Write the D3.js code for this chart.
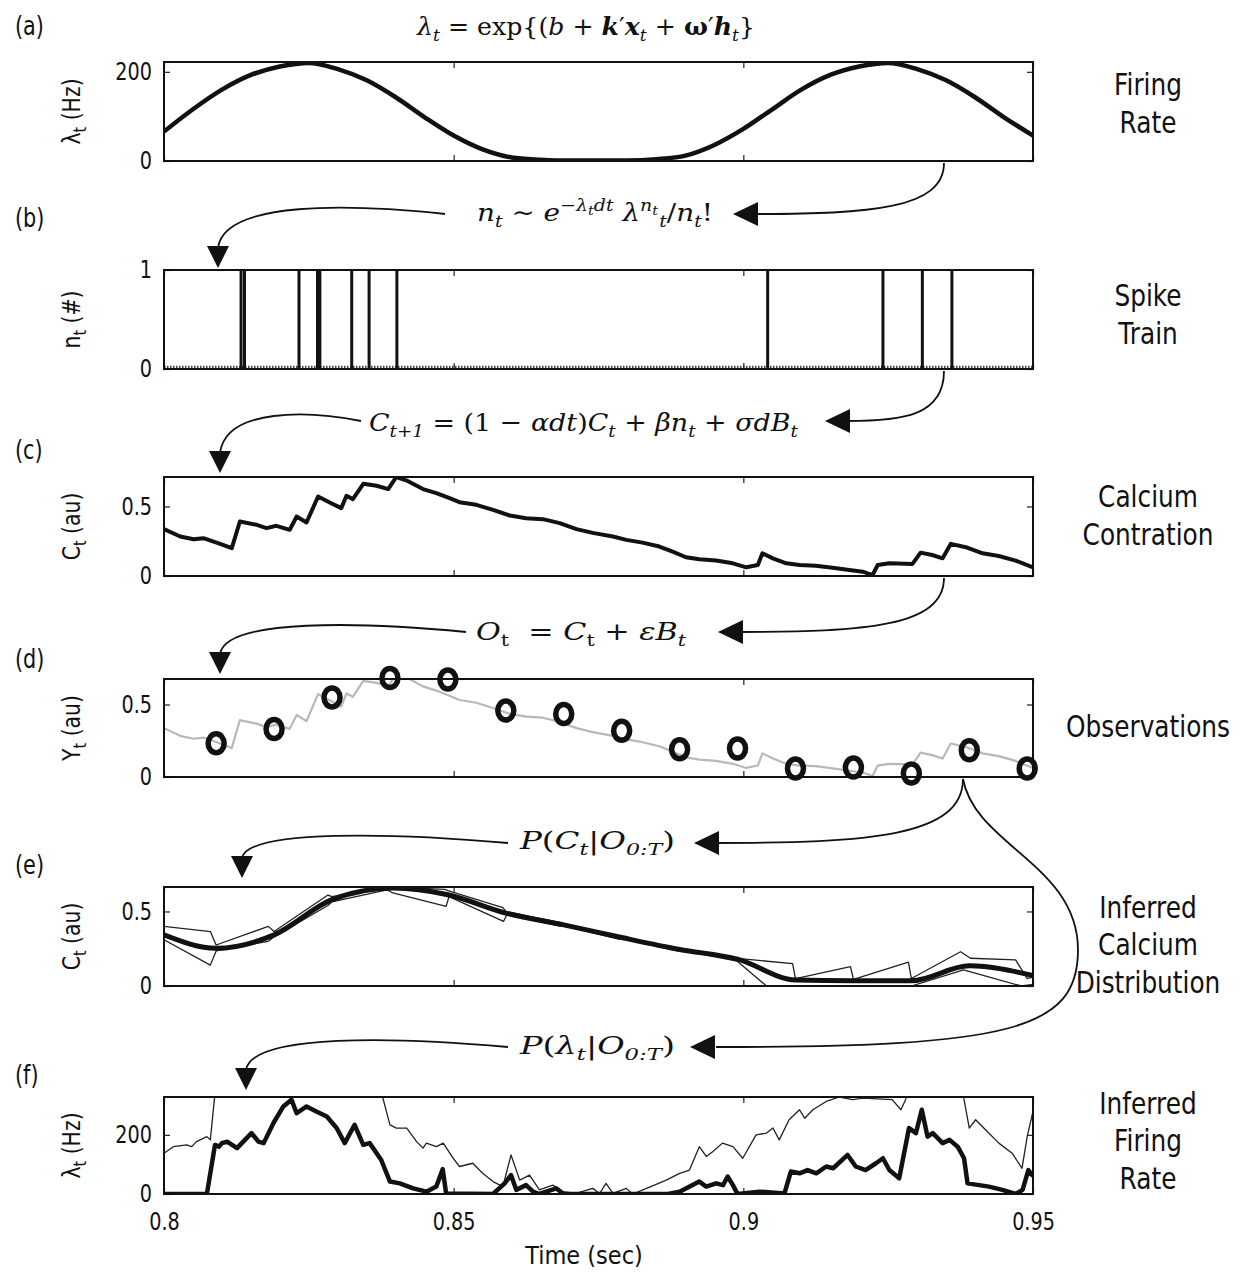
<!DOCTYPE html>
<html>
<head>
<meta charset="utf-8">
<script src="https://cdn.jsdelivr.net/npm/d3@7"></script>
<style>
  body { margin: 0; background: #fff; }
  svg { display: block; }
  .lab { font-family: "DejaVu Sans", sans-serif; fill: #111; }
  .eq { font-family: "DejaVu Serif", "Liberation Serif", serif; font-size: 25px; fill: #111; white-space: pre; }
</style>
</head>
<body>
<svg id="fig" width="1245" height="1275"></svg>
<script>
// shared time axis
const timeDomain = [0.8, 0.95];
const timeTicks = [0.8, 0.85, 0.9, 0.95];
const timeTickLabels = ["0.8", "0.85", "0.9", "0.95"];

// (a) true firing rate (Hz)
const rateTime = [0.800, 0.805, 0.810, 0.815, 0.820, 0.825, 0.830, 0.835, 0.840, 0.845, 0.850, 0.855,
  0.860, 0.865, 0.870, 0.875, 0.880, 0.885, 0.890, 0.895, 0.900, 0.905, 0.910, 0.915, 0.920, 0.925,
  0.930, 0.935, 0.940, 0.945, 0.950];
const rateHz = [66, 116, 160, 193, 212, 220, 206, 181, 143, 98, 57, 26,
  8, 3, 1, 1, 1, 4, 12, 36, 72, 116, 160, 193, 212, 220,
  206, 181, 143, 98, 57];

// (b) spike times (s)
const spikeTimes = [0.8133, 0.8139, 0.8233, 0.8265, 0.8269, 0.8324, 0.8354, 0.8402, 0.9042, 0.9241, 0.9309, 0.9360];

// (c) calcium concentration
const calciumTime = [0.8000, 0.8028, 0.8051, 0.8068, 0.8097, 0.8117, 0.8131, 0.8160, 0.8177, 0.8194,
  0.8217, 0.8229, 0.8246, 0.8266, 0.8286, 0.8306, 0.8315, 0.8326, 0.8344, 0.8367,
  0.8387, 0.8401, 0.8418, 0.8447, 0.8470, 0.8493, 0.8510, 0.8539, 0.8568, 0.8597,
  0.8625, 0.8654, 0.8683, 0.8712, 0.8740, 0.8775, 0.8798, 0.8826, 0.8855, 0.8878,
  0.8901, 0.8924, 0.8953, 0.8982, 0.9005, 0.9025, 0.9033, 0.9051, 0.9074, 0.9097,
  0.9125, 0.9154, 0.9183, 0.9206, 0.9223, 0.9232, 0.9252, 0.9292, 0.9306, 0.9326,
  0.9344, 0.9358, 0.9384, 0.9413, 0.9441, 0.9470, 0.9500];
const calciumValue = [0.337, 0.284, 0.264, 0.272, 0.231, 0.200, 0.392, 0.368, 0.344, 0.361,
  0.332, 0.428, 0.385, 0.572, 0.529, 0.488, 0.577, 0.553, 0.663, 0.649,
  0.625, 0.712, 0.688, 0.625, 0.596, 0.560, 0.531, 0.512, 0.476, 0.435,
  0.416, 0.409, 0.380, 0.337, 0.310, 0.284, 0.260, 0.240, 0.212, 0.175,
  0.135, 0.120, 0.111, 0.091, 0.0625, 0.079, 0.163, 0.127, 0.091, 0.079,
  0.0745, 0.060, 0.043, 0.031, 0.007, 0.079, 0.091, 0.087, 0.168, 0.151,
  0.127, 0.231, 0.207, 0.163, 0.144, 0.111, 0.0625];

// (d) noisy observations
const obsTime = [0.809, 0.819, 0.829, 0.839, 0.849, 0.859, 0.869, 0.879, 0.889, 0.899, 0.909, 0.919, 0.929, 0.939, 0.949];
const obsValue = [0.232, 0.331, 0.549, 0.683, 0.672, 0.458, 0.435, 0.319, 0.192, 0.197, 0.058, 0.065, 0.024, 0.185, 0.058];

// (e) inferred calcium: mean and bounds
const caMeanTime = [0.800, 0.809, 0.819, 0.829, 0.8395, 0.849, 0.859, 0.869, 0.879, 0.889, 0.899, 0.909, 0.919, 0.929, 0.939, 0.950];
const caMeanValue = [0.343, 0.253, 0.343, 0.579, 0.657, 0.612, 0.489, 0.41, 0.325, 0.245, 0.18, 0.04, 0.035, 0.035, 0.135, 0.07];
const caUpperTime = [0.800, 0.8080, 0.8090, 0.8180, 0.8190, 0.8283, 0.8290, 0.8385, 0.8392, 0.8485, 0.8490,
  0.8585, 0.8590, 0.8685, 0.8690, 0.8785, 0.8790, 0.8885, 0.8890, 0.8985, 0.8990, 0.9085, 0.9090,
  0.9185, 0.9190, 0.9285, 0.9290, 0.9375, 0.9392, 0.9470, 0.9490, 0.9500];
const caUpperValue = [0.40, 0.365, 0.275, 0.40, 0.365, 0.61, 0.60, 0.664, 0.664, 0.648, 0.640,
  0.525, 0.50, 0.425, 0.415, 0.335, 0.328, 0.255, 0.248, 0.19, 0.185, 0.15, 0.05,
  0.13, 0.045, 0.16, 0.05, 0.23, 0.186, 0.175, 0.05, 0.06];
const caLowerTime = [0.800, 0.8080, 0.8090, 0.8180, 0.8190, 0.8283, 0.8290, 0.8385, 0.8395, 0.8487, 0.8492,
  0.8586, 0.8592, 0.8685, 0.8690, 0.8785, 0.8790, 0.8885, 0.8890, 0.8985, 0.8990, 0.9040, 0.9290,
  0.9380, 0.9480, 0.9500];
const caLowerValue = [0.31, 0.14, 0.235, 0.30, 0.33, 0.54, 0.565, 0.645, 0.624, 0.534, 0.60,
  0.433, 0.48, 0.40, 0.405, 0.315, 0.32, 0.235, 0.24, 0.17, 0.165, 0.0, 0.0,
  0.108, 0.0, 0.01];

// (f) inferred firing rate: mean (thick) and upper bound (thin)
const frMeanTime = [0.8000, 0.8074, 0.8088, 0.8095, 0.8100, 0.8109, 0.8126, 0.8151, 0.8163, 0.8172,
  0.8189, 0.8206, 0.8220, 0.8229, 0.8246, 0.8263, 0.8281, 0.8298, 0.8312, 0.8329,
  0.8344, 0.8355, 0.8375, 0.8390, 0.8407, 0.8430, 0.8453, 0.8470, 0.8481, 0.8487,
  0.8568, 0.8588, 0.8599, 0.8608, 0.8625, 0.8637, 0.8648, 0.8677, 0.8690, 0.8870,
  0.8890, 0.8924, 0.8936, 0.8953, 0.8965, 0.8973, 0.8982, 0.8990, 0.9028, 0.9071,
  0.9082, 0.9097, 0.9111, 0.9126, 0.9143, 0.9155, 0.9180, 0.9194, 0.9211, 0.9229,
  0.9241, 0.9252, 0.9269, 0.9286, 0.9298, 0.9308, 0.9318, 0.9327, 0.9344, 0.9356,
  0.9370, 0.9381, 0.9387, 0.9407, 0.9424, 0.9447, 0.9470, 0.9482, 0.9492, 0.9500];
const frMeanHz = [0, 0, 166, 160, 172, 177, 155, 206, 177, 172,
  240, 296, 319, 273, 296, 279, 262, 223, 172, 234,
  166, 172, 115, 42, 36, 19, 8, 25, 84, 2,
  0, 36, 64, 14, 30, 8, 0, 19, 0, 0,
  8, 42, 25, 36, 30, 59, 30, 0, 8, 2,
  76, 70, 81, 70, 93, 87, 132, 93, 81, 104,
  121, 81, 53, 223, 206, 285, 194, 206, 172, 183,
  160, 121, 36, 30, 25, 14, 0, 14, 81, 60];
const frUpperTime = [0.8000, 0.8016, 0.8039, 0.8048, 0.8056, 0.8074, 0.8080, 0.8092, 0.8365, 0.8390,
  0.8401, 0.8419, 0.8436, 0.8447, 0.8453, 0.8470, 0.8482, 0.8499, 0.8510, 0.8533,
  0.8550, 0.8568, 0.8585, 0.8599, 0.8614, 0.8631, 0.8648, 0.8671, 0.8688, 0.8711,
  0.8740, 0.8752, 0.8763, 0.8775, 0.8798, 0.8809, 0.8833, 0.8867, 0.8890, 0.8907,
  0.8924, 0.8936, 0.8947, 0.8964, 0.8982, 0.8999, 0.9022, 0.9040, 0.9051, 0.9062,
  0.9079, 0.9097, 0.9106, 0.9120, 0.9143, 0.9166, 0.9189, 0.9206, 0.9257, 0.9272,
  0.9280, 0.9292, 0.9375, 0.9381, 0.9390, 0.9401, 0.9418, 0.9441, 0.9464, 0.9481,
  0.9490, 0.9500];
const frUpperHz = [138, 160, 166, 160, 177, 194, 183, 420, 420, 234,
  223, 223, 177, 155, 172, 160, 172, 121, 93, 104,
  70, 42, 25, 132, 47, 64, 14, 30, 8, 2,
  19, 2, 36, 2, 19, 0, 19, 47, 70, 81,
  160, 127, 143, 172, 160, 121, 200, 206, 223, 183,
  251, 285, 256, 285, 313, 328, 319, 324, 319, 285,
  319, 400, 400, 319, 223, 251, 217, 172, 138, 87,
  194, 280];

// per-panel text
const panelLetters = ["(a)", "(b)", "(c)", "(d)", "(e)", "(f)"];
const sideLabels = [["Firing", "Rate"], ["Spike", "Train"], ["Calcium", "Contration"],
  ["Observations"], ["Inferred", "Calcium", "Distribution"], ["Inferred", "Firing", "Rate"]];
const yLabels = [["λ", "t", " (Hz)"], ["n", "t", " (#)"], ["C", "t", " (au)"], ["Y", "t", " (au)"], ["C", "t", " (au)"], ["λ", "t", " (Hz)"]];
const yMax = [222, 1, 0.712, 0.676, 0.664, 328];
const yTickValues = [[0, 200], [0, 1], [0, 0.5], [0, 0.5], [0, 0.5], [0, 200]];
const yTickLabels = [["0", "200"], ["0", "1"], ["0", "0.5"], ["0", "0.5"], ["0", "0.5"], ["0", "200"]];

// layout
const plotLeft = 164, plotRight = 1033;
const boxes = [
  { top: 62, bottom: 161 }, { top: 270, bottom: 369 }, { top: 477, bottom: 576 },
  { top: 679, bottom: 777 }, { top: 887, bottom: 986 }, { top: 1097, bottom: 1194 }
];
const letterY = [35, 227, 459, 668, 874, 1084];
const sideMidY = [104, 315, 516, 727, 945, 1141];
const narrow = 0.8;   // horizontal squeeze to mimic the condensed sans of the original

const svg = d3.select("#fig");
const x = d3.scaleLinear().domain(timeDomain).range([plotLeft, plotRight]);

const panels = boxes.map((b, i) => {
  const y = d3.scaleLinear().domain([0, yMax[i]]).range([b.bottom, b.top]);
  svg.append("clipPath").attr("id", "clip" + i)
    .append("rect").attr("x", plotLeft).attr("y", b.top)
    .attr("width", plotRight - plotLeft).attr("height", b.bottom - b.top);
  const g = svg.append("g");
  const plot = g.append("g").attr("clip-path", `url(#clip${i})`);
  return { y, g, plot, box: b };
});

const zip = (ts, vs) => ts.map((t, k) => [t, vs[k]]);
function drawLine(p, data, width, color, curve) {
  p.plot.append("path")
    .datum(data)
    .attr("fill", "none")
    .attr("stroke", color)
    .attr("stroke-width", width)
    .attr("stroke-linejoin", "round")
    .attr("d", d3.line().x(d => x(d[0])).y(d => p.y(d[1])).curve(curve || d3.curveLinear));
}

// condensed text helper
function label(px, py, str, size, anchor) {
  return svg.append("text").attr("class", "lab").attr("font-size", size)
    .attr("text-anchor", anchor || "start")
    .attr("transform", `translate(${px},${py}) scale(${narrow},1)`)
    .text(str);
}

// (a)
drawLine(panels[0], zip(rateTime, rateHz), 4.5, "#111", d3.curveMonotoneX);

// (b)
panels[1].plot.append("line")
  .attr("x1", plotLeft).attr("x2", plotRight)
  .attr("y1", panels[1].y(0) - 2).attr("y2", panels[1].y(0) - 2)
  .attr("stroke", "#444").attr("stroke-width", 2.5).attr("stroke-dasharray", "1.5,1.5");
panels[1].plot.selectAll("line.spike")
  .data(spikeTimes)
  .join("line")
  .attr("class", "spike")
  .attr("x1", d => x(d)).attr("x2", d => x(d))
  .attr("y1", panels[1].y(0)).attr("y2", panels[1].y(1))
  .attr("stroke", "#111").attr("stroke-width", 3);

// (c)
drawLine(panels[2], zip(calciumTime, calciumValue), 4, "#111");

// (d)
drawLine(panels[3], zip(calciumTime, calciumValue), 2.2, "#b8b8b8");

// (e)
drawLine(panels[4], zip(caUpperTime, caUpperValue), 1.3, "#222");
drawLine(panels[4], zip(caLowerTime, caLowerValue), 1.3, "#222");
drawLine(panels[4], zip(caMeanTime, caMeanValue), 5, "#111", d3.curveMonotoneX);

// (f)
drawLine(panels[5], zip(frUpperTime, frUpperHz), 1.3, "#222");
drawLine(panels[5], zip(frMeanTime, frMeanHz), 4.5, "#111");

// frames, ticks, labels
panels.forEach((p, i) => {
  const { y, g, box } = p;
  const last = i === panels.length - 1;
  g.append("g").attr("transform", `translate(0,${box.bottom})`)
    .call(d3.axisBottom(x).tickValues(timeTicks).tickSize(-6).tickPadding(19)
      .tickFormat((d, k) => last ? timeTickLabels[k] : ""));
  g.append("g").attr("transform", `translate(0,${box.top})`)
    .call(d3.axisTop(x).tickValues(timeTicks).tickSize(-6).tickFormat(""));
  const left = g.append("g").attr("transform", `translate(${plotLeft},0)`)
    .call(d3.axisLeft(y).tickValues(yTickValues[i]).tickSize(-6).tickPadding(12)
      .tickFormat((d, k) => yTickLabels[i][k]));
  g.append("g").attr("transform", `translate(${plotRight},0)`)
    .call(d3.axisRight(y).tickValues(yTickValues[i]).tickSize(-6).tickFormat(""));
  g.selectAll(".domain").remove();
  g.selectAll(".tick line").attr("stroke", "#222").attr("stroke-width", 1.2);
  g.selectAll(".tick text").attr("class", "lab").attr("font-size", 24)
    .attr("transform", `scale(${narrow},1)`);
  left.selectAll(".tick text").attr("x", -12 / narrow);

  g.append("rect")
    .attr("x", plotLeft).attr("y", box.top)
    .attr("width", plotRight - plotLeft).attr("height", box.bottom - box.top)
    .attr("fill", "none").attr("stroke", "#111").attr("stroke-width", 2);

  // rotated y label
  const yl = g.append("text").attr("class", "lab").attr("font-size", 24)
    .attr("text-anchor", "middle")
    .attr("transform", `translate(80,${(box.top + box.bottom) / 2}) rotate(-90) scale(0.85,1)`);
  yl.append("tspan").text(yLabels[i][0]);
  yl.append("tspan").text(yLabels[i][1]).attr("font-size", 17).attr("baseline-shift", -6);
  yl.append("tspan").text(yLabels[i][2]);

  // panel letter
  label(15, letterY[i], panelLetters[i], 26);

  // side label
  const lines = sideLabels[i];
  lines.forEach((s, k) => {
    label(1148, sideMidY[i] + (k - (lines.length - 1) / 2) * 37.5 + 10, s, 31, "middle");
  });
});

// (d) observation markers drawn over the frame
panels[3].g.selectAll("ellipse")
  .data(zip(obsTime, obsValue))
  .join("ellipse")
  .attr("cx", d => x(d[0])).attr("cy", d => panels[3].y(d[1]))
  .attr("rx", 8).attr("ry", 9.5)
  .attr("fill", "none").attr("stroke", "#111").attr("stroke-width", 5.5);

// x axis title
svg.append("text").attr("class", "lab").attr("font-size", 25)
  .attr("text-anchor", "middle")
  .attr("transform", "translate(584,1264) scale(0.9,1)")
  .text("Time (sec)");

// equations: left edge, baseline, width, pieces
function equation(lx, baseline, width, parts) {
  const t = svg.append("text").attr("class", "eq")
    .attr("x", lx).attr("y", baseline)
    .attr("textLength", width).attr("lengthAdjust", "spacingAndGlyphs");
  parts.forEach(([txt, f, dx]) => {
    const s = t.append("tspan").text(txt);
    f = f || "";
    if (f.includes("i")) s.attr("font-style", "italic");
    if (f.includes("b")) s.attr("font-weight", "bold");
    if (f.includes("_")) s.attr("baseline-shift", -6).attr("font-size", 17);
    if (f.includes("^")) s.attr("baseline-shift", 10).attr("font-size", 17);
    if (f.includes("~")) s.attr("baseline-shift", 6).attr("font-size", 13);
    if (dx) s.attr("dx", dx);
  });
}
equation(417, 35, 338, [["λ", "i"], ["t", "i_"], [" = exp{(", ""], ["b", "i"], [" + ", ""], ["k", "bi"], ["′", ""],
  ["x", "bi"], ["t", "i_"], [" + ", ""], ["ω", "b"], ["′", ""], ["h", "bi"], ["t", "i_"], ["}", ""]]);
equation(477, 221, 236, [["n", "i"], ["t", "i_"], [" ∼ ", ""], ["e", "i"], ["−λ", "i^"], ["t", "i~"], ["dt", "i^"],
  [" λ", "i"], ["n", "i^"], ["t", "i~"], ["t", "i_", 1], ["/", ""], ["n", "i"], ["t", "i_"], ["!", ""]]);
equation(369, 431, 429, [["C", "i"], ["t+1", "i_"], [" = (1 − ", ""], ["αdt", "i"], [")", ""], ["C", "i"], ["t", "i_"],
  [" + ", ""], ["βn", "i"], ["t", "i_"], [" + ", ""], ["σdB", "i"], ["t", "i_"]]);
equation(476, 640, 210, [["O", "i"], ["t", "_"], ["  = ", ""], ["C", "i"], ["t", "_"], [" + ", ""], ["εB", "i"], ["t", "i_"]]);
equation(520, 849, 155, [["P", "i"], ["(", ""], ["C", "i"], ["t", "i_"], ["|", ""], ["O", "i"], ["0:T", "i_"], [")", ""]]);
equation(520, 1054, 155, [["P", "i"], ["(", ""], ["λ", "i"], ["t", "i_"], ["|", ""], ["O", "i"], ["0:T", "i_"], [")", ""]]);

// connecting arrows
const arrowsRight = [
  { sx: 944, sy: 163, ey: 214, tip: 733 },
  { sx: 944, sy: 371, ey: 421, tip: 825 },
  { sx: 944, sy: 578, ey: 632, tip: 718 },
  { sx: 963, sy: 779, ey: 843, tip: 694 }
];
const arrowsLeft = [
  { sx: 445, y: 214, tx: 218, ty: 268 },
  { sx: 361, y: 421, tx: 220, ty: 473 },
  { sx: 466, y: 632, tx: 220, ty: 674 },
  { sx: 508, y: 843, tx: 242, ty: 878 },
  { sx: 508, y: 1047, tx: 246, ty: 1090 }
];
const arrowG = svg.append("g").attr("fill", "none").attr("stroke", "#111").attr("stroke-width", 1.8);
const head = svg.append("g").attr("fill", "#111");
function leftHead(tx, ty) {
  head.append("path").attr("d", `M${tx},${ty}L${tx + 25},${ty - 12}L${tx + 25},${ty + 12}Z`);
}
function downHead(tx, ty) {
  head.append("path").attr("d", `M${tx},${ty}L${tx - 11},${ty - 22}L${tx + 11},${ty - 22}Z`);
}
arrowsRight.forEach(a => {
  const p = d3.path();
  p.moveTo(a.sx, a.sy);
  p.bezierCurveTo(a.sx, a.sy + (a.ey - a.sy) * 0.9, a.sx - (a.sx - a.tip) * 0.35, a.ey, a.tip + 22, a.ey);
  arrowG.append("path").attr("d", p.toString());
  leftHead(a.tip, a.ey);
});
arrowsLeft.forEach(a => {
  const p = d3.path();
  p.moveTo(a.sx, a.y);
  p.bezierCurveTo((a.sx + a.tx) / 2 + 20, a.y - 10, a.tx + 6, a.y - 14, a.tx, a.ty - 20);
  arrowG.append("path").attr("d", p.toString());
  downHead(a.tx, a.ty);
});
// long branch from (d) down to the (f) equation
{
  const p = d3.path();
  p.moveTo(963, 779);
  p.bezierCurveTo(975, 845, 1078, 865, 1078, 950);
  p.bezierCurveTo(1078, 1030, 1010, 1047, 716, 1047);
  arrowG.append("path").attr("d", p.toString());
  leftHead(690, 1047);
}
</script>
</body>
</html>
